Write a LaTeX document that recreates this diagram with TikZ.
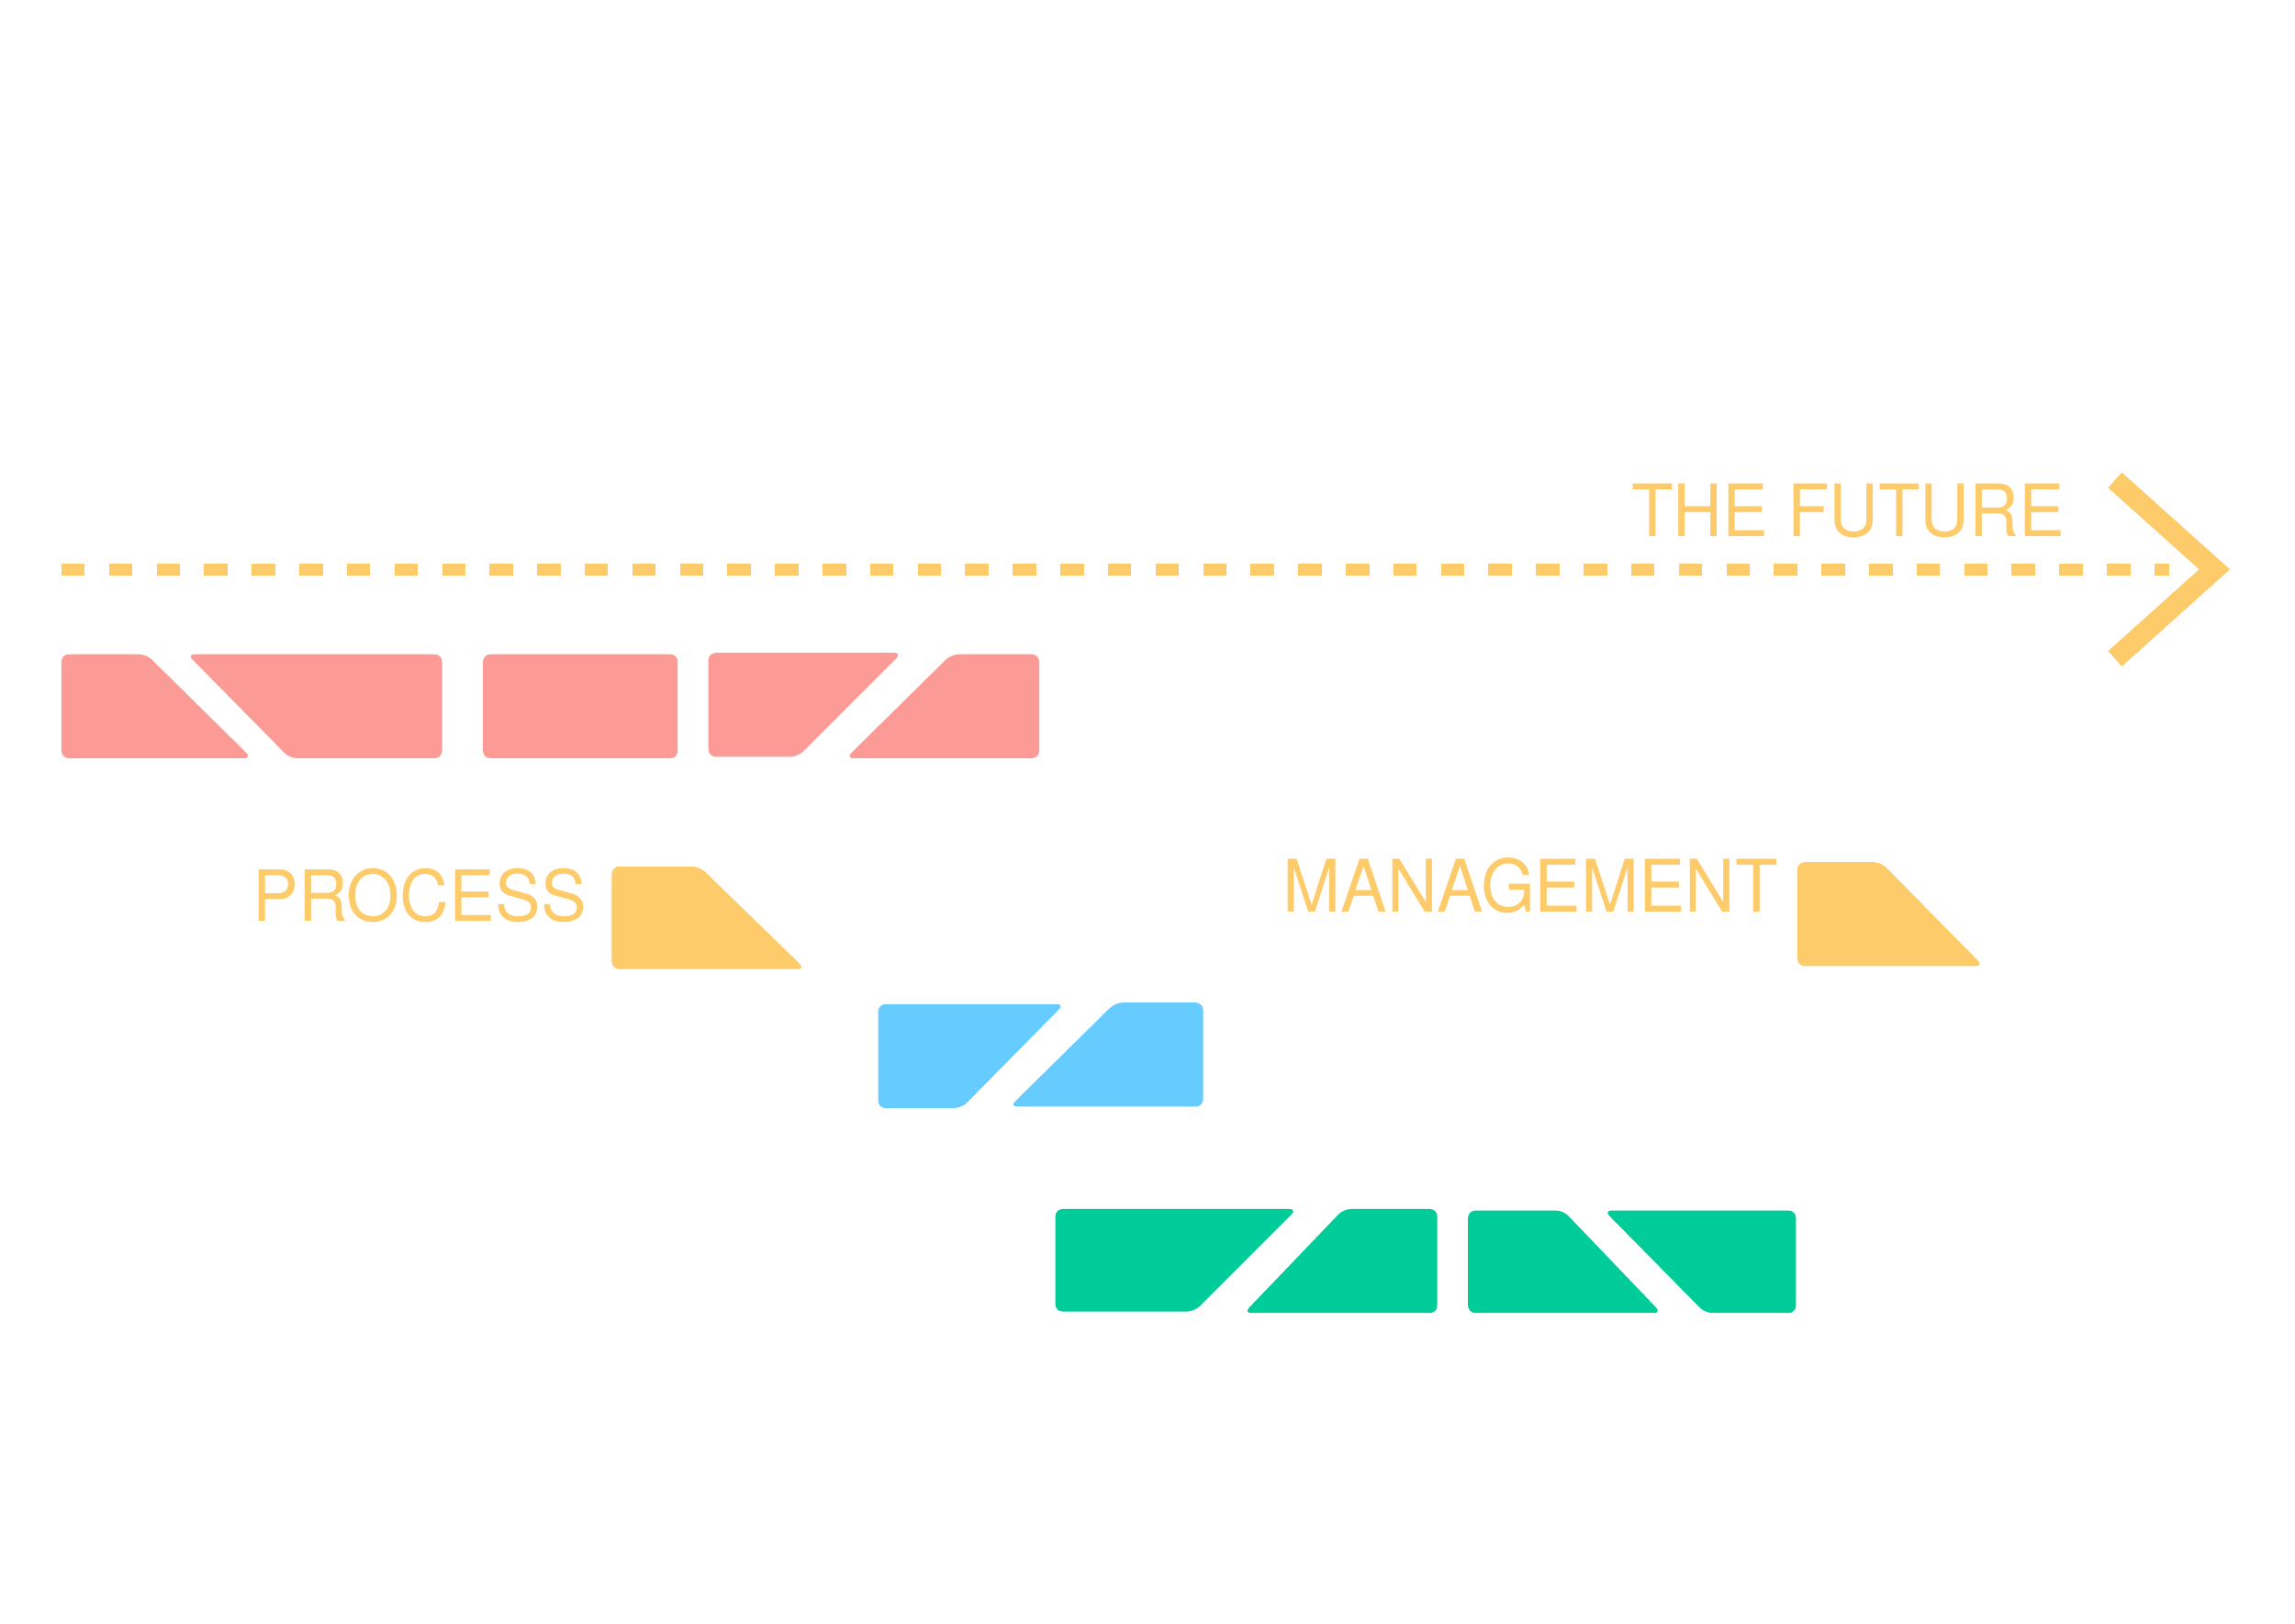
\documentclass[tikz,border=0pt]{standalone}
\usepackage{fontspec}
\setmainfont{TeX Gyre Heros}
\usepackage{graphicx}
\definecolor{cred}{HTML}{FC9A96}
\definecolor{cyel}{HTML}{FDCB6A}
\definecolor{cblu}{HTML}{66CCFF}
\definecolor{cgrn}{HTML}{00CC99}
\tikzset{blk/.style={fill=#1,rounded corners=0.5mm},
 lbl/.style={text=cyel,inner sep=0,anchor=south west}}
\begin{document}
\begin{tikzpicture}[x=0.1mm,y=-0.1mm]
\useasboundingbox (0,0) rectangle (1568,1109);
% timeline
\draw[cyel,line width=0.8mm,dash pattern=on 1.6mm off 1.65mm] (42,389) -- (1482,389);
\draw[cyel,line width=1.4mm] (1445,328) -- (1513,389) -- (1445,450);
\node[lbl] (fut) at (1114,368) {\resizebox{29.6mm}{3.6mm}{THE FUTURE}};
% red
\fill[blk=cred] (42,447)--(100,447)--(172,518)--(42,518)--cycle;
\fill[blk=cred] (128,447)--(302,447)--(302,518)--(198,518)--cycle;
\fill[blk=cred] (330,447)--(463,447)--(463,518)--(330,518)--cycle;
\fill[blk=cred] (484,446)--(616,446)--(545,517)--(484,517)--cycle;
\fill[blk=cred] (650,447)--(710,447)--(710,518)--(578,518)--cycle;
% process
\node[lbl] (proc) at (172,631) {\resizebox{22.8mm}{3.6mm}{PROCESS}};
\fill[blk=cyel] (418,592)--(478,592)--(550,662)--(418,662)--cycle;
% blue
\fill[blk=cblu] (600,686)--(727,686)--(657,757)--(600,757)--cycle;
\fill[blk=cblu] (762,685)--(822,685)--(822,756)--(690,756)--cycle;
% management
\node[lbl] (mgmt) at (876,625) {\resizebox{33.8mm}{3.7mm}{MANAGEMENT}};
\fill[blk=cyel] (1228,589)--(1285,589)--(1355,660)--(1228,660)--cycle;
% green
\fill[blk=cgrn] (721,826)--(886,826)--(816,896)--(721,896)--cycle;
\fill[blk=cgrn] (918,826)--(982,826)--(982,897)--(850,897)--cycle;
\fill[blk=cgrn] (1003,827)--(1068,827)--(1135,897)--(1003,897)--cycle;
\fill[blk=cgrn] (1096,827)--(1227,827)--(1227,897)--(1165,897)--cycle;
\end{tikzpicture}
\end{document}
